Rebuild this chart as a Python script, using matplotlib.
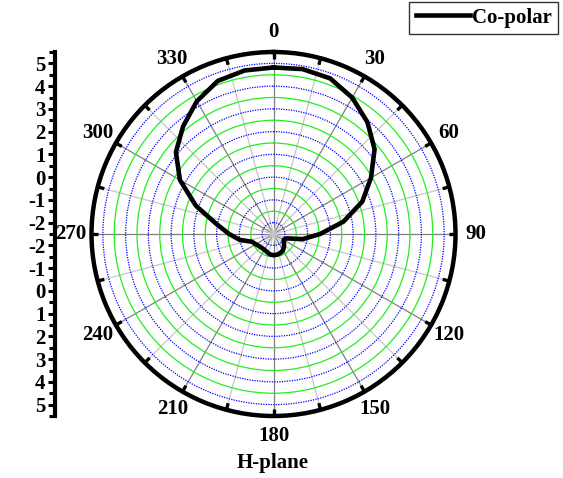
import numpy as np
import matplotlib.pyplot as plt

plt.rcParams['font.family'] = ['Liberation Serif', 'DejaVu Serif']
plt.rcParams['font.weight'] = 'bold'

# H-plane co-polar pattern (angle in degrees, normalised gain)
angle = [0, 10, 20, 30, 40, 50, 60, 70, 80, 90, 100, 108, 115, 122, 130,
         140, 150, 160, 170, 180, 190, 200, 210, 220, 230, 240, 250, 260,
         270, 280, 290, 300, 310, 320, 330, 340, 350, 360]
gain = [4.82, 4.86, 4.78, 4.42, 3.92, 3.30, 2.45, 1.65, 0.62, -0.45, -1.20,
        -1.88, -1.97, -1.98, -1.90, -1.78, -1.67, -1.61, -1.58, -1.57, -1.59,
        -1.66, -1.70, -1.70, -1.67, -1.60, -1.50, -1.00, -0.55, 0.05, 1.13,
        2.25, 3.10, 3.68, 4.24, 4.66, 4.80, 4.82]

theta_labels = [0, 30, 60, 90, 120, 150, 180, 210, 240, 270, 300, 330]
r_ticks = [-2, -1, 0, 1, 2, 3, 4, 5]
r_min, r_max = -2.5, 5.5
fs = 15

fig = plt.figure(figsize=(5.63, 4.78), dpi=100)
ax = fig.add_axes([0.1625, 0.1297, 0.6466, 0.7615], projection='polar')
ax.set_theta_zero_location('N')
ax.set_theta_direction(-1)
ax.set_ylim(r_min, r_max)

# grid: blue dotted at whole units, green between them, grey spokes
ax.set_yticks(r_ticks)
ax.set_yticks(np.arange(-1.5, 5.0, 1.0), minor=True)
ax.set_xticks(np.radians(theta_labels))
ax.set_xticks(np.radians(np.arange(15, 360, 30)), minor=True)
ax.set_yticklabels([])
ax.set_xticklabels([])
ax.tick_params(which='both', length=0)
ax.yaxis.grid(True, which='major', color='#0000ff', linestyle=(0, (1, 1)), linewidth=0.9)
ax.yaxis.grid(True, which='minor', color='#22ee22', linestyle='-', linewidth=0.9)
ax.xaxis.grid(True, which='major', color='#808080', linestyle='-', linewidth=0.9)
ax.xaxis.grid(True, which='minor', color='#c8c8c8', linestyle='-', linewidth=0.9)
ax.spines['polar'].set_linewidth(3.2)

# inward ticks on the outer ring
tick_angles = np.radians(np.arange(0, 360, 15))
ax.vlines(tick_angles, r_max - 0.3, r_max, colors='black', linewidth=2.4)

for t in theta_labels:
    ax.text(np.radians(t), 6.4, str(t), ha='center', va='center',
            fontsize=fs, fontweight='bold', clip_on=False)

ax.plot(np.radians(angle), gain, color='black', linewidth=3.3, label='Co-polar')

# mirrored radial scale on the left
rax = fig.add_axes([55 / 563, 0.1297, 0.001, 0.7615])
rax.patch.set_visible(False)
for side in ['top', 'right', 'bottom']:
    rax.spines[side].set_visible(False)
rax.spines['left'].set_linewidth(3.0)
rax.set_xticks([])
rax.set_ylim(-(r_max - r_min), r_max - r_min)
pos = [v - r_min for v in r_ticks] + [-(v - r_min) for v in r_ticks]
labels = [str(v) for v in r_ticks] * 2
rax.set_yticks(pos)
rax.set_yticklabels(labels, fontsize=fs, fontweight='bold')
rax.set_yticks(list(range(-8, 9)), minor=True)
rax.tick_params(axis='y', which='major', length=5, width=2.2, pad=2)
rax.tick_params(axis='y', which='minor', length=4, width=2.2)

fig.text(0.484, 0.031, 'H-plane', ha='center', va='center', fontsize=fs, fontweight='bold')

leg = fig.legend(loc='upper right', bbox_to_anchor=(558 / 563, 1 - 1.5 / 478),
                 frameon=True, fancybox=False, handlelength=2.6, handletextpad=0.1,
                 borderpad=0.3, borderaxespad=0, prop={'size': fs, 'weight': 'bold'})
leg.get_frame().set_edgecolor('black')
leg.get_frame().set_linewidth(1.0)

fig.savefig('out.png', dpi=100)
